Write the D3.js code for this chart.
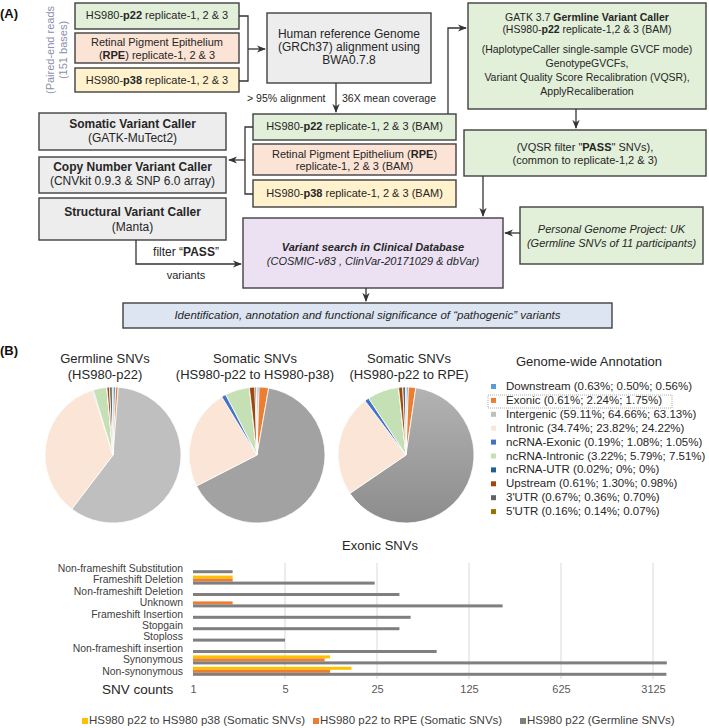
<!DOCTYPE html>
<html><head><meta charset="utf-8">
<script src="https://cdn.jsdelivr.net/npm/d3@7"></script>
<style>body{margin:0;background:#fff} svg{display:block;font-family:"Liberation Sans",Arial,sans-serif}</style>
</head><body><svg id="c" width="709" height="728"></svg>
<script>
const annotationLabels = ["Downstream","Exonic","Intergenic","Intronic","ncRNA-Exonic","ncRNA-Intronic","ncRNA-UTR","Upstream","3'UTR","5'UTR"];
const germlinePct = [0.63,0.61,59.11,34.74,0.19,3.22,0.02,0.61,0.67,0.16];
const p38Pct = [0.50,2.24,64.66,23.82,1.08,5.79,0,1.30,0.36,0.14];
const rpePct = [0.56,1.75,63.13,24.22,1.05,7.51,0,0.98,0.70,0.07];
const pieTitles = [["Germline SNVs","(HS980-p22)"],["Somatic SNVs","(HS980-p22 to HS980-p38)"],["Somatic SNVs","(HS980-p22 to RPE)"]];
const exonicCategories = ["Non-frameshift Substitution","Frameshift Deletion","Non-frameshift Deletion","Unknown","Frameshift Insertion","Stopgain","Stoploss","Non-frameshift insertion","Synonymous","Non-synonymous"];
const p38Counts = [null,2,null,null,null,null,null,null,11,16];
const rpeCounts = [null,2,null,2,null,null,null,null,10,11];
const germlineCounts = [2,24,37,225,45,37,5,71,3980,3950];
const countTicks = [1,5,25,125,625,3125];
const seriesNames = ["HS980 p22 to HS980 p38 (Somatic SNVs)","HS980 p22 to RPE (Somatic SNVs)","HS980 p22 (Germline SNVs)"];

const svg = d3.select("#c");
const FONT_C = "#262626";
const defs = svg.append("defs");
defs.append("marker").attr("id","arr").attr("viewBox","0 0 10 10").attr("refX",9).attr("refY",5)
  .attr("markerWidth",7).attr("markerHeight",7).attr("orient","auto-start-reverse")
  .append("path").attr("d","M0,1 L10,5 L0,9 L3,5 z").attr("fill","#333");
const grad = defs.append("linearGradient").attr("id","ig3").attr("x1",0).attr("y1",0).attr("x2",0).attr("y2",1);
grad.append("stop").attr("offset","0%").attr("stop-color","#b3b3b3");
grad.append("stop").attr("offset","100%").attr("stop-color","#8c8c8c");

// ---------- Panel A: flowchart ----------
const GREEN="#e2efd9", PEACH="#fbe4d5", YEL="#fff2cc", GRAY="#ededed", PURP="#ebe1f3", BLUE="#dce5f1";
function textLine(g, x, y, segs, size, anchor){
  const t = g.append("text").attr("x",x).attr("y",y).attr("text-anchor",anchor||"middle")
    .attr("dominant-baseline","middle").attr("font-size",size).attr("fill",FONT_C);
  segs.forEach(s=>{
    const [str, st] = typeof s==="string" ? [s,""] : s;
    const ts = t.append("tspan").text(str);
    if(st && st.includes("b")) ts.attr("font-weight","bold");
    if(st && st.includes("i")) ts.attr("font-style","italic");
  });
  return t;
}
function box(x,y,w,h,fill,lines,size){
  const g = svg.append("g");
  g.append("rect").attr("x",x).attr("y",y).attr("width",w).attr("height",h)
    .attr("fill",fill).attr("stroke","#404040").attr("stroke-width",1.4);
  lines.forEach(l=>textLine(g, x+w/2, l.y, l.s, size));
}
const boxes = [
  [75,3,164,26,GREEN,[{y:16,s:["HS980-",["p22","b"],"  replicate-1, 2 & 3"]}],11],
  [75,33,164,30,PEACH,[{y:43,s:["Retinal Pigment Epithelium"]},{y:56,s:["(",["RPE","b"],") replicate-1, 2 & 3"]}],11],
  [75,68,164,24,YEL,[{y:81,s:["HS980-",["p38","b"],"  replicate-1, 2 & 3"]}],11],
  [267,13,164,70,GRAY,[{y:35,s:["Human reference Genome"]},{y:48,s:["(GRCh37) alignment using"]},{y:61,s:["BWA0.7.8"]}],12],
  [253,114,203,26,GREEN,[{y:127,s:["HS980-",["p22","b"],"  replicate-1, 2 & 3 (BAM)"]}],11],
  [253,144,203,31,PEACH,[{y:155,s:["Retinal Pigment Epithelium (",["RPE","b"],")"]},{y:167,s:["replicate-1, 2 & 3 (BAM)"]}],11],
  [253,180,203,27,YEL,[{y:194,s:["HS980-",["p38","b"],"  replicate-1, 2 & 3 (BAM)"]}],11],
  [39,113,187,37,GRAY,[{y:125,s:[["Somatic Variant Caller","b"]]},{y:139,s:["(GATK-MuTect2)"]}],12],
  [39,157,187,36,GRAY,[{y:168,s:[["Copy Number Variant Caller","b"]]},{y:182,s:["(CNVkit 0.9.3 & SNP 6.0 array)"]}],12],
  [39,198,187,42,GRAY,[{y:213,s:[["Structural Variant Caller","b"]]},{y:228,s:["(Manta)"]}],12],
  [468,3,238,106,GREEN,[{y:18,s:["GATK 3.7 ",["Germline Variant Caller","b"]]},{y:30,s:["(HS980-",["p22","b"]," replicate-1,2 & 3 (BAM)"]},
     {y:50,s:["(HaplotypeCaller single-sample GVCF mode)"]},{y:64,s:["GenotypeGVCFs,"]},{y:78,s:["Variant Quality Score Recalibration (VQSR),"]},{y:92,s:["ApplyRecaliberation"]}],10.5],
  [464,130,242,46,GREEN,[{y:148,s:["(VQSR filter \"",["PASS","b"],"\" SNVs),"]},{y:161,s:["(common to replicate-1,2 & 3)"]}],11],
  [243,218,260,70,PURP,[{y:248,s:[["Variant search in Clinical Database","bi"]]},{y:262,s:[["(COSMIC-v83 , ClinVar-20171029 & dbVar)","i"]]}],11],
  [520,207,183,57,GREEN,[{y:230,s:[["Personal Genome Project: UK","i"]]},{y:244,s:[["(Germline SNVs of 11 participants)","i"]]}],11],
  [123,303,489,25,BLUE,[{y:316,s:[["Identification, annotation and functional significance of \u201cpathogenic\u201d variants","i"]]}],11.5]
];
boxes.forEach(b=>box(...b));

function path(d, arrow){
  const p = svg.append("path").attr("d",d).attr("fill","none").attr("stroke","#333").attr("stroke-width",1.3);
  if(arrow) p.attr("marker-end","url(#arr)");
}
path("M239,16 H248 V81 H239");
path("M248,49 H265", true);
path("M336,83 V112", true);
path("M253,127 H245 V194 H253");
path("M245,160 H229", true);
path("M448,114 V28 H466", true);
path("M576,109 V128", true);
path("M483,176 V216", true);
path("M520,233 H505", true);
path("M136,240 V264 H241", true);
path("M366,288 V301", true);

textLine(svg,247,99,["> 95% alignment"],10.5,"start");
textLine(svg,342,99,["36X mean coverage"],10.5,"start");
textLine(svg,186,253,["filter \u201c",["PASS","b"],"\u201d"],12);
textLine(svg,186,276,["variants"],11);
svg.append("text").attr("font-weight","bold").attr("font-size",13).attr("x",0).attr("y",18).attr("fill","#111").text("(A)");
svg.append("text").attr("font-weight","bold").attr("font-size",13).attr("x",0).attr("y",355).attr("fill","#111").text("(B)");
svg.append("text").attr("transform","translate(54,50) rotate(-90)").attr("text-anchor","middle")
  .attr("font-size",11).attr("fill","#8d8fae").text("(Paired-end reads");
svg.append("text").attr("transform","translate(67,50) rotate(-90)").attr("text-anchor","middle")
  .attr("font-size",11).attr("fill","#8d8fae").text("(151 bases)");

// ---------- Panel B: pies ----------
const sliceColors = ["#5b9bd5","#ed7d31","#bfbfbf","#fbe5d6","#4472c4","#c5e0b4","#255e91","#9e480e","#636363","#997300"];
const intergenicFill = ["#bfbfbf","#a2a2a2","url(#ig3)"];
const pieData = [germlinePct, p38Pct, rpePct];
const pieCx = [113,257,406], pieCy = 455, R = 68;
const pie = d3.pie().sort(null).value(d=>d);
const arc = d3.arc().innerRadius(0).outerRadius(R);
pieData.forEach((vals,i)=>{
  const g = svg.append("g").attr("transform",`translate(${pieCx[i]},${pieCy})`);
  g.selectAll("path").data(pie(vals)).join("path").attr("d",arc)
    .attr("fill",(d,j)=> j===2 ? intergenicFill[i] : sliceColors[j])
    .attr("stroke","#fff").attr("stroke-width",0.8);
});
const titleX = [105,255,409];
pieTitles.forEach((t,i)=>{
  textLine(svg,titleX[i],360,[t[0]],13);
  textLine(svg,titleX[i],376,[t[1]],13);
});
// legend
textLine(svg,589,363,["Genome-wide Annotation"],13);
const fmt = v => v===0 ? "0%" : v.toFixed(2)+"%";
const lg = svg.append("g");
annotationLabels.forEach((lab,j)=>{
  const y = 387 + j*13.9;
  lg.append("rect").attr("x",491).attr("y",y-3).attr("width",5).attr("height",5).attr("fill",sliceColors[j]);
  textLine(lg,506,y,[`${lab} (${fmt(germlinePct[j])}; ${fmt(p38Pct[j])}; ${fmt(rpePct[j])})`],11.5,"start");
});
lg.append("rect").attr("x",488).attr("y",395).attr("width",184).attr("height",13)
  .attr("fill","none").attr("stroke","#999").attr("stroke-dasharray","1,1").attr("stroke-width",0.8);

// ---------- Panel B: exonic bar chart ----------
textLine(svg,380,547,["Exonic SNVs"],13);
const x = d3.scaleLog().base(5).domain([1,3125]).range([193,653]);
const y = d3.scaleBand().domain(exonicCategories).range([563,677]);
const series = [p38Counts, rpeCounts, germlineCounts];
const seriesColors = ["#ffc000","#ed7d31","#7f7f7f"];
const sub = d3.scaleBand().domain([0,1,2]).range([-4.5,4.5]);
svg.append("g").selectAll("line").data(countTicks.slice(1)).join("line")
  .attr("x1",d=>x(d)).attr("x2",d=>x(d)).attr("y1",563).attr("y2",679)
  .attr("stroke","#d9d9d9").attr("stroke-width",1);
series.forEach((vals,s)=>{
  svg.append("g").selectAll("rect").data(exonicCategories.map((c,k)=>({c,v:vals[k]})).filter(d=>d.v))
    .join("rect").attr("x",x(1)).attr("width",d=>x(d.v)-x(1))
    .attr("y",d=>y(d.c)+y.bandwidth()/2+sub(s)).attr("height",sub.bandwidth())
    .attr("fill",seriesColors[s]);
});
const yAxis = svg.append("g").attr("transform","translate(183,0)")
  .call(d3.axisLeft(y).tickSize(0).tickPadding(0));
yAxis.select(".domain").remove();
yAxis.selectAll("text").attr("font-size",10.4).attr("fill","#404040").attr("font-family","Liberation Sans, Arial, sans-serif");
const xAxis = svg.append("g").attr("transform","translate(0,685)")
  .call(d3.axisBottom(x).tickValues(countTicks).tickFormat(d3.format("d")).tickSize(0).tickPadding(0));
xAxis.select(".domain").remove();
xAxis.selectAll("text").attr("font-size",11).attr("fill","#595959").attr("font-family","Liberation Sans, Arial, sans-serif");
textLine(svg,102,690,["SNV counts"],13.5,"start");
// bottom legend
const legX = [82,313,520];
seriesNames.forEach((n,s)=>{
  svg.append("rect").attr("x",legX[s]).attr("y",718).attr("width",6).attr("height",6).attr("fill",seriesColors[s]);
  textLine(svg,legX[s]+7,721,[n],11.5,"start").attr("fill","#404040");
});
</script></body></html>
